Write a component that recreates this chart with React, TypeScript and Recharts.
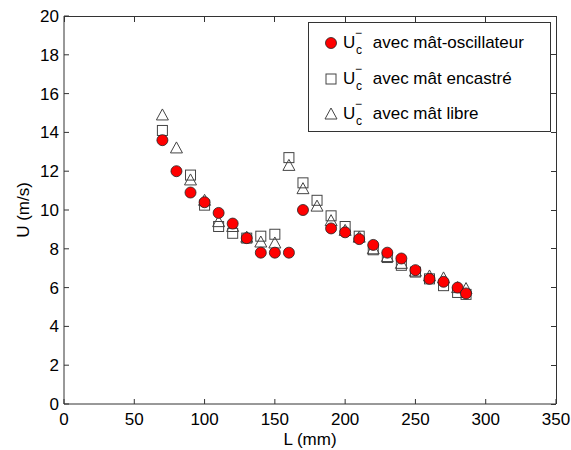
import React from 'react';
import {
  ScatterChart,
  Scatter,
  XAxis,
  YAxis,
} from 'recharts';

const xTicks = [0, 50, 100, 150, 200, 250, 300, 350];
const yTicks = [0, 2, 4, 6, 8, 10, 12, 14, 16, 18, 20];

const lOsc = [70, 80, 90, 100, 110, 120, 130, 140, 150, 160, 170, 190, 200, 210, 220, 230, 240, 250, 260, 270, 280, 286];
const uOsc = [13.6, 12.0, 10.9, 10.4, 9.85, 9.3, 8.55, 7.8, 7.8, 7.8, 10.0, 9.05, 8.85, 8.5, 8.2, 7.8, 7.5, 6.9, 6.45, 6.3, 6.0, 5.7];

const lEnc = [70, 90, 100, 110, 120, 130, 140, 150, 160, 170, 180, 190, 200, 210, 220, 230, 240, 250, 260, 270, 280, 286];
const uEnc = [14.1, 11.8, 10.25, 9.15, 8.8, 8.55, 8.65, 8.75, 12.7, 11.4, 10.5, 9.7, 9.15, 8.65, 7.95, 7.55, 7.15, 6.8, 6.45, 6.1, 5.75, 5.65];

const lLib = [70, 80, 90, 100, 110, 120, 130, 140, 150, 160, 170, 180, 190, 200, 210, 220, 230, 240, 250, 260, 270, 280, 286];
const uLib = [14.9, 13.2, 11.55, 10.5, 9.4, 9.15, 8.6, 8.35, 8.3, 12.3, 11.1, 10.2, 9.45, 8.95, 8.6, 8.0, 7.6, 7.25, 6.85, 6.6, 6.5, 6.0, 5.95];

const legendLabels = ['avec mât-oscillateur', 'avec mât encastré', 'avec mât libre'];

const toPoints = (xs: number[], ys: number[]) => xs.map((x, i) => ({ x, y: ys[i] }));

const FONT = '"Liberation Sans", Arial, sans-serif';
const AXIS = '#333';
const X_MAX = 350;
const Y_MAX = 20;

// plot box, from the chart margins and axis sizes below
const W = 571;
const H = 450;
const M_TOP = 16;
const M_RIGHT = 15;
const Y_AXIS_W = 64;
const X_AXIS_H = 46;
const BOX_L = Y_AXIS_W;
const BOX_T = M_TOP;
const BOX_W = W - M_RIGHT - Y_AXIS_W;
const BOX_H = H - X_AXIS_H - M_TOP;

const CircleMark = (p: any) => (
  <circle cx={p.cx} cy={p.cy} r={5.5} fill="#ff0000" stroke="#222" strokeWidth={0.8} />
);
const SquareMark = (p: any) => (
  <rect x={p.cx - 5} y={p.cy - 5} width={10} height={10} fill="none" stroke="#444" strokeWidth={1} />
);
const TriangleMark = (p: any) => (
  <polygon
    points={`${p.cx},${p.cy - 6} ${p.cx - 6},${p.cy + 5} ${p.cx + 6},${p.cy + 5}`}
    fill="none"
    stroke="#444"
    strokeWidth={1}
  />
);

function Uc() {
  return (
    <span style={{ position: 'relative', display: 'inline-block', width: 25 }}>
      U
      <span style={{ position: 'absolute', left: 12, top: -7, fontSize: 12 }}>−</span>
      <span style={{ position: 'absolute', left: 13, top: 10, fontSize: 12 }}>c</span>
    </span>
  );
}

// top and right sides of the box with their inward ticks (matlab style)
function FrameBox() {
  return (
    <div
      style={{
        position: 'absolute',
        left: BOX_L,
        top: BOX_T - 0.5,
        width: BOX_W + 0.5,
        height: BOX_H + 0.5,
        borderTop: `1px solid ${AXIS}`,
        borderRight: `1px solid ${AXIS}`,
        boxSizing: 'border-box',
        pointerEvents: 'none',
      }}
    >
      {xTicks.map((t) => (
        <div
          key={`tx${t}`}
          style={{ position: 'absolute', left: (t / X_MAX) * BOX_W - 0.5, top: 0, width: 1, height: 5, background: AXIS }}
        />
      ))}
      {yTicks.map((t) => (
        <div
          key={`ty${t}`}
          style={{ position: 'absolute', right: 0, top: BOX_H - (t / Y_MAX) * BOX_H - 1, width: 5, height: 1, background: AXIS }}
        />
      ))}
    </div>
  );
}

// legend drawn as a plain box over the plot, like the matlab one
function LegendBox() {
  const icons = [
    <svg width={16} height={16} key="c"><circle cx={8} cy={8} r={5.5} fill="#ff0000" stroke="#222" strokeWidth={0.8} /></svg>,
    <svg width={16} height={16} key="s"><rect x={3} y={3} width={10} height={10} fill="none" stroke="#444" /></svg>,
    <svg width={16} height={16} key="t"><polygon points="8,2 2,13 14,13" fill="none" stroke="#444" /></svg>,
  ];
  return (
    <div
      style={{
        position: 'absolute',
        left: 308,
        top: 22,
        width: 243,
        height: 110,
        border: '1px solid #333',
        background: '#fff',
        fontFamily: FONT,
        fontSize: 17,
        color: '#000',
        boxSizing: 'border-box',
        paddingTop: 2,
      }}
    >
      {legendLabels.map((label, i) => (
        <div key={label} style={{ display: 'flex', alignItems: 'center', height: 35.7, paddingLeft: 14 }}>
          {icons[i]}
          <span style={{ marginLeft: 4, whiteSpace: 'nowrap' }}>
            <Uc /> {label}
          </span>
        </div>
      ))}
    </div>
  );
}

export default function App() {
  const tickStyle = { fill: '#000', fontSize: 17, fontFamily: FONT };
  const labelStyle = { fill: '#000', fontSize: 17, fontFamily: FONT, textAnchor: 'middle' as const };
  return (
    <div style={{ position: 'absolute', left: 0, top: 0, width: W, height: H, background: '#fff' }}>
      <ScatterChart width={W} height={H} margin={{ top: M_TOP, right: M_RIGHT, left: 0, bottom: 0 }}>
        <XAxis
          type="number"
          dataKey="x"
          domain={[0, X_MAX]}
          ticks={xTicks}
          height={X_AXIS_H}
          stroke={AXIS}
          tick={tickStyle}
          tickSize={-5}
          tickMargin={14}
          label={{ value: 'L (mm)', position: 'insideBottom', offset: 5, style: labelStyle }}
        />
        <YAxis
          type="number"
          dataKey="y"
          domain={[0, Y_MAX]}
          ticks={yTicks}
          width={Y_AXIS_W}
          stroke={AXIS}
          tick={tickStyle}
          tickSize={-5}
          tickMargin={10}
          label={{ value: 'U (m/s)', angle: -90, position: 'insideLeft', offset: 23, style: labelStyle }}
        />
        <Scatter
          name="enc"
          data={toPoints(lEnc, uEnc)}
          shape={SquareMark}
          isAnimationActive={false}
        />
        <Scatter
          name="lib"
          data={toPoints(lLib, uLib)}
          shape={TriangleMark}
          isAnimationActive={false}
        />
        <Scatter
          name="osc"
          data={toPoints(lOsc, uOsc)}
          shape={CircleMark}
          isAnimationActive={false}
        />
      </ScatterChart>
      <FrameBox />
      <LegendBox />
    </div>
  );
}
